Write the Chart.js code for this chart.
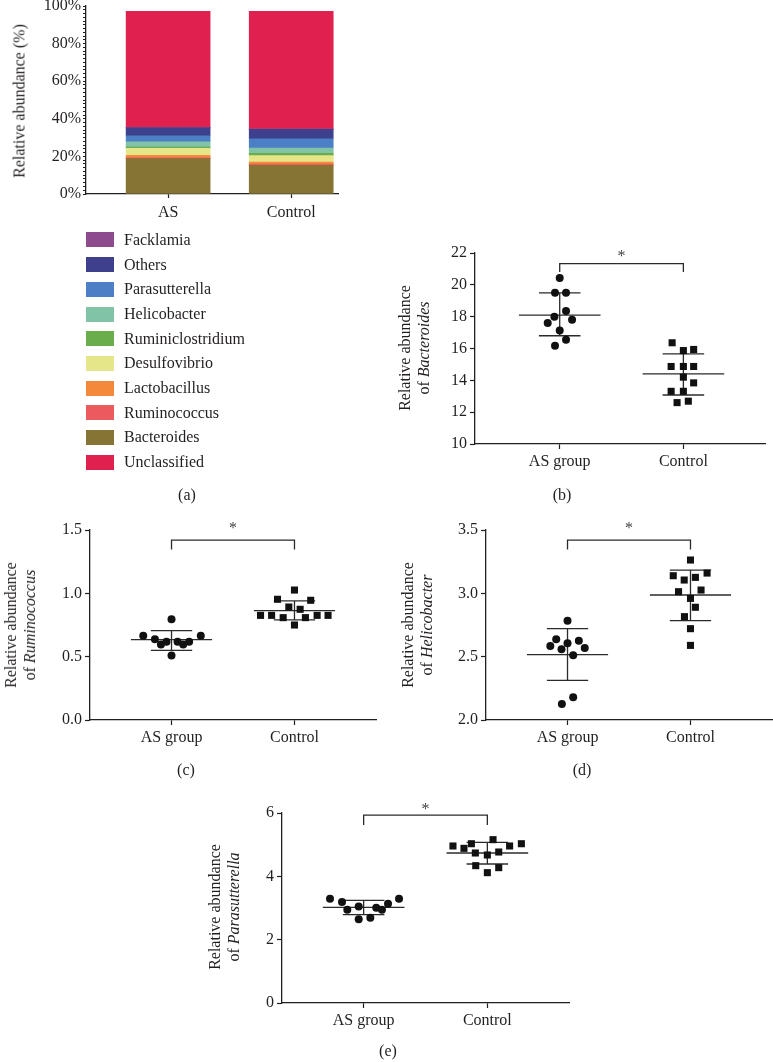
<!DOCTYPE html>
<html>
<head>
<meta charset="utf-8">
<script src="https://cdn.jsdelivr.net/npm/chart.js@4.4.1/dist/chart.umd.min.js"></script>
<style>
  body { margin:0; width:773px; height:1062px; position:relative; overflow:hidden; background:#fff;
         font-family:"Liberation Serif","Times New Roman",serif; color:#231f20; }
  canvas { position:absolute; }
  .ytitle { position:absolute; transform:translate(-50%,-50%) rotate(-90deg); white-space:nowrap;
            text-align:center; font-size:16px; line-height:19px; }
  .cap { position:absolute; transform:translate(-50%,-50%); font-size:16px; }
  #legend { position:absolute; left:86px; top:227.6px; font-size:16px; }
  #legend div { height:24.7px; display:flex; align-items:center; }
  #legend span { display:inline-block; width:28px; height:15px; margin-right:10px; }
</style>
</head>
<body>
<canvas id="ca"></canvas>
<canvas id="cb"></canvas>
<canvas id="cc"></canvas>
<canvas id="cd"></canvas>
<canvas id="ce"></canvas>

<div class="ytitle" style="left:19px;top:101px">Relative abundance (%)</div>
<div class="ytitle" style="left:414px;top:348px">Relative abundance<br>of <i>Bacteroides</i></div>
<div class="ytitle" style="left:20px;top:625px">Relative abundance<br>of <i>Ruminococcus</i></div>
<div class="ytitle" style="left:417px;top:625px">Relative abundance<br>of <i>Helicobacter</i></div>
<div class="ytitle" style="left:224px;top:907px">Relative abundance<br>of <i>Parasutterella</i></div>
<div id="legend"></div>

<div class="cap" style="left:187px;top:495px">(a)</div>
<div class="cap" style="left:562px;top:495px">(b)</div>
<div class="cap" style="left:186px;top:770px">(c)</div>
<div class="cap" style="left:582px;top:770px">(d)</div>
<div class="cap" style="left:388px;top:1051px">(e)</div>

<script>
// -------------------------
// DATA
// -------------------------
const BAR_GROUPS = ['AS', 'Control'];
const GROUPS = ['AS group', 'Control'];

// (a) stacked composition, bottom to top
const TAXA = ['Bacteroides', 'Ruminococcus', 'Lactobacillus', 'Desulfovibrio', 'Ruminiclostridium',
              'Helicobacter', 'Parasutterella', 'Others', 'Facklamia', 'Unclassified'];
const asAbund   = [18.8, 0.6, 1.2, 3.7, 0.7, 2.8, 3.2, 4.2, 0.2, 61.8];
const ctrlAbund = [15.2, 0.7, 1.1, 3.4, 1.2, 2.8, 5.0, 5.0, 0.2, 62.5];
const LEGEND_ORDER = ['Facklamia', 'Others', 'Parasutterella', 'Helicobacter', 'Ruminiclostridium',
                      'Desulfovibrio', 'Lactobacillus', 'Ruminococcus', 'Bacteroides', 'Unclassified'];

// (b) Bacteroides
const bactAsX   = [1, 0.962, 1.051, 1.051, 0.957, 0.903, 1.1, 1, 1.051, 0.962];
const bactAsY   = [20.43, 19.5, 19.5, 18.35, 18.0, 17.6, 17.8, 17.13, 16.55, 16.17];
const bactCtrlX = [1.909, 2, 2.083, 1.901, 2, 2.083, 2, 2.083, 1.901, 2, 1.949, 2.04];
const bactCtrlY = [16.36, 15.87, 15.94, 14.87, 14.87, 14.87, 14.2, 13.84, 13.31, 13.31, 12.6, 12.69];
const bactMean = [18.1, 14.4], bactSdHi = [19.5, 15.66], bactSdLo = [16.8, 13.08];

// (c) Ruminococcus
const rumAsX   = [0.77, 0.865, 0.914, 0.959, 1, 1, 1.049, 1.095, 1.143, 1.238];
const rumAsY   = [0.666, 0.637, 0.597, 0.618, 0.795, 0.51, 0.618, 0.597, 0.618, 0.666];
const rumCtrlX = [1.724, 1.814, 1.862, 1.908, 1.954, 2, 2, 2.046, 2.089, 2.132, 2.184, 2.273];
const rumCtrlY = [0.826, 0.826, 0.953, 0.808, 0.892, 1.026, 0.75, 0.874, 0.808, 0.945, 0.826, 0.826];
const rumMean = [0.634, 0.863], rumSdHi = [0.705, 0.94], rumSdLo = [0.55, 0.79];

// (d) Helicobacter
const helAsX   = [1, 0.908, 0.86, 0.951, 1, 1.092, 1.14, 1.046, 1.046, 0.954];
const helAsY   = [2.784, 2.637, 2.584, 2.558, 2.605, 2.626, 2.568, 2.511, 2.18, 2.126];
const helCtrlX = [2, 1.86, 1.949, 2.04, 2.135, 1.903, 2.086, 2, 2.04, 1.951, 2, 2];
const helCtrlY = [3.263, 3.139, 3.105, 3.126, 3.16, 3.013, 3.026, 2.96, 2.89, 2.816, 2.721, 2.589];
const helMean = [2.516, 2.987], helSdHi = [2.721, 3.184], helSdLo = [2.313, 2.784];

// (e) Parasutterella
const parAsX   = [0.728, 0.825, 0.868, 0.96, 0.96, 1.054, 1.102, 1.148, 1.197, 1.286];
const parAsY   = [3.295, 3.19, 2.947, 3.05, 2.642, 2.695, 3.01, 2.947, 3.137, 3.295];
const parCtrlX = [1.722, 1.811, 1.871, 1.903, 2, 2.046, 2.092, 2.18, 2.275, 1.906, 2, 2.092];
const parCtrlY = [4.958, 4.884, 5.03, 4.737, 4.674, 5.158, 4.768, 4.958, 5.03, 4.337, 4.116, 4.274];
const parMean = [3.02, 4.737], parSdHi = [3.24, 5.07], parSdLo = [2.79, 4.39];

// -------------------------
// Styles
// -------------------------
const INK = '#231f20';
const TAXA_COLORS = {
  Facklamia: '#8d4b8e', Others: '#3e3f8d', Parasutterella: '#4b80c7', Helicobacter: '#80c3a7',
  Ruminiclostridium: '#6aad4c', Desulfovibrio: '#e5e689', Lactobacillus: '#f5893b',
  Ruminococcus: '#ec5a5d', Bacteroides: '#857434', Unclassified: '#e0204f'
};
const MEAN_HALF = 0.33, CAP_HALF = 0.168;

Chart.defaults.font.family = '"Liberation Serif", "Times New Roman", serif';
Chart.defaults.font.size = 16;
Chart.defaults.color = INK;
Chart.defaults.animation = false;

// -------------------------
// Helpers
// -------------------------
function placeCanvas(id, area, pad) {
  const c = document.getElementById(id);
  c.width = Math.round(area.R - area.L + pad.yw + pad.right);
  c.height = Math.round(area.B - area.T + pad.top + pad.xh);
  c.style.left = (area.L - pad.yw) + 'px';
  c.style.top = (area.T - pad.top) + 'px';
  return c;
}
function axisStyle(tickLen) {
  return {
    grid: { display: true, drawOnChartArea: false, drawTicks: true, tickLength: tickLen, tickWidth: 1.2, tickColor: INK, offset: false },
    border: { display: true, color: INK, width: 1.3 }
  };
}
function line(points) {
  return { data: points, showLine: true, pointRadius: 0, borderColor: '#2b2b2b', borderWidth: 1.3, clip: false };
}
function starPlugin(x, y) {
  return { id: 'star', afterDatasetsDraw(chart) {
    const ctx = chart.ctx;
    ctx.save();
    ctx.fillStyle = '#444';
    ctx.font = '16px "Liberation Serif"';
    ctx.textAlign = 'center';
    ctx.textBaseline = 'middle';
    ctx.fillText('*', chart.scales.x.getPixelForValue(x), chart.scales.y.getPixelForValue(y) + 4);
    ctx.restore();
  } };
}

// -------------------------
// (a) stacked bars
// -------------------------
(function () {
  const area = { L: 86, T: 6, R: 338, B: 194.3 }, pad = { yw: 60, xh: 36, top: 12, right: 4 };
  const c = placeCanvas('ca', area, pad);
  const ax = axisStyle(4), ay = axisStyle(3);
  new Chart(c, {
    type: 'bar',
    data: {
      datasets: TAXA.map((t, i) => ({
        label: t,
        data: [{ x: 1, y: asAbund[i] }, { x: 2, y: ctrlAbund[i] }],
        backgroundColor: TAXA_COLORS[t], borderWidth: 0, barThickness: 84
      }))
    },
    options: {
      responsive: false, events: [],
      layout: { padding: { top: pad.top, right: pad.right, left: 0, bottom: 0 } },
      plugins: { legend: { display: false }, tooltip: { enabled: false } },
      scales: {
        x: { type: 'linear', min: 0.333, max: 2.38, offset: false, stacked: true, ...ax,
             afterBuildTicks: a => { a.ticks = [{ value: 1 }, { value: 2 }]; },
             afterFit: s => { s.height = pad.xh; },
             ticks: { callback: (v, i) => BAR_GROUPS[i], padding: 5, maxRotation: 0, autoSkip: false } },
        y: { type: 'linear', min: 0, max: 100, stacked: true, ...ay,
             afterFit: s => { s.width = pad.yw; },
             ticks: { stepSize: 2, autoSkip: false, padding: 2, callback: v => (v % 20 === 0 ? v + '%' : '') } }
      }
    }
  });
  document.getElementById('legend').innerHTML = LEGEND_ORDER
    .map(t => `<div><span style="background:${TAXA_COLORS[t]}"></span>${t}</div>`).join('');
})();

// -------------------------
// (b)-(e) dot plots
// -------------------------
function dotPanel(id, area, xr, yr, asX, asY, ctX, ctY, mean, hi, lo, bracket) {
  const pad = { yw: 70, xh: 40, top: 36, right: 4 };
  const c = placeCanvas(id, area, pad);
  const datasets = [
    { data: asX.map((x, i) => ({ x, y: asY[i] })), pointStyle: 'circle', pointRadius: 4,
      backgroundColor: '#111', borderWidth: 0 },
    { data: ctX.map((x, i) => ({ x, y: ctY[i] })), pointStyle: 'rect', pointRadius: 5,
      backgroundColor: '#111', borderWidth: 0 },
    line([{ x: 1, y: bracket[1] }, { x: 1, y: bracket[0] }, { x: 2, y: bracket[0] }, { x: 2, y: bracket[1] }])
  ];
  [1, 2].forEach((g, k) => {
    datasets.push(line([{ x: g - MEAN_HALF, y: mean[k] }, { x: g + MEAN_HALF, y: mean[k] }]));
    datasets.push(line([{ x: g - CAP_HALF, y: hi[k] }, { x: g + CAP_HALF, y: hi[k] }]));
    datasets.push(line([{ x: g - CAP_HALF, y: lo[k] }, { x: g + CAP_HALF, y: lo[k] }]));
    datasets.push(line([{ x: g, y: hi[k] }, { x: g, y: lo[k] }]));
  });
  const ax = axisStyle(5), ay = axisStyle(5);
  new Chart(c, {
    type: 'scatter',
    data: { datasets },
    options: {
      responsive: false, events: [],
      layout: { padding: { top: pad.top, right: pad.right, left: 0, bottom: 0 } },
      plugins: { legend: { display: false }, tooltip: { enabled: false } },
      scales: {
        x: { type: 'linear', min: xr[0], max: xr[1], offset: false, ...ax,
             afterBuildTicks: a => { a.ticks = [{ value: 1 }, { value: 2 }]; },
             afterFit: s => { s.height = pad.xh; },
             ticks: { callback: (v, i) => GROUPS[i], padding: 3, maxRotation: 0, autoSkip: false } },
        y: { type: 'linear', min: yr[0], max: yr[1], ...ay,
             afterFit: s => { s.width = pad.yw; },
             ticks: { stepSize: yr[2], padding: 3, autoSkip: false, callback: v => v.toFixed(yr[3]) } }
      }
    },
    plugins: [starPlugin(1.5, bracket[2])]
  });
}

dotPanel('cb', { L: 475, T: 252.7, R: 766, B: 443.3 }, [0.315, 2.66], [10, 22, 2, 0],
  bactAsX, bactAsY, bactCtrlX, bactCtrlY, bactMean, bactSdHi, bactSdLo, [21.33, 20.8, 22.0]);
dotPanel('cc', { L: 90, T: 530, R: 376.7, B: 720 }, [0.337, 2.663], [0, 1.5, 0.5, 1],
  rumAsX, rumAsY, rumCtrlX, rumCtrlY, rumMean, rumSdHi, rumSdLo, [1.42, 1.347, 1.54]);
dotPanel('cd', { L: 486, T: 530, R: 773, B: 720 }, [0.337, 2.663], [2, 3.5, 0.5, 1],
  helAsX, helAsY, helCtrlX, helCtrlY, helMean, helSdHi, helSdLo, [3.42, 3.347, 3.54]);
dotPanel('ce', { L: 282.3, T: 812.7, R: 570, B: 1002.7 }, [0.34, 2.66], [0, 6, 2, 0],
  parAsX, parAsY, parCtrlX, parCtrlY, parMean, parSdHi, parSdLo, [5.93, 5.62, 6.24]);
</script>
</body>
</html>
